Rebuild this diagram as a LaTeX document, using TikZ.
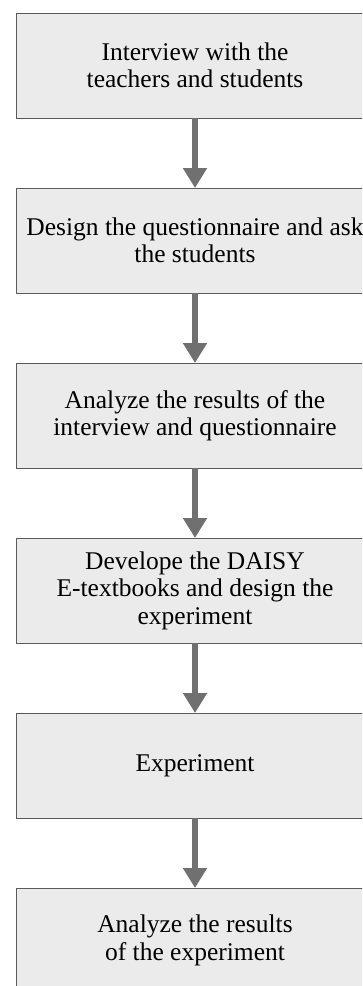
\documentclass[tikz,border=0pt]{standalone}
\usepackage{fontspec}
\setmainfont{Liberation Serif}
\usetikzlibrary{positioning,arrows.meta}
\definecolor{boxfill}{HTML}{EBEBEB}
\definecolor{boxline}{HTML}{5A5A5A}
\definecolor{arrowgray}{HTML}{707070}
\begin{document}
\begin{tikzpicture}[node distance={70pt}, x=1pt, y=1pt,
    main/.style = {draw=boxline, fill=boxfill, line width=1pt, outer sep=0pt, inner sep=0pt,
        minimum width=358pt, minimum height=105pt, align=center,
        font=\fontsize{25.5}{27.5}\selectfont},
    flow/.style = {draw=arrowgray, line width=6pt, -{Triangle[width=23pt,length=20pt]}}]
    \useasboundingbox (0,0) rectangle (362,-986);
    \clip (0,0) rectangle (362,-986);

    \node[main] (1) at (195,-65.5) {Interview with the\\teachers and students};
    \node[main] (2) [below=of 1] {Design the questionnaire and ask\\the students};
    \node[main] (3) [below=of 2] {Analyze the results of the\\interview and questionnaire};
    \node[main] (4) [below=of 3] {Develope the DAISY\\E-textbooks and design the\\experiment};
    \node[main] (5) [below=of 4] {Experiment};
    \node[main] (6) [below=of 5] {Analyze the results\\of the experiment};

    \draw[flow] (1) -- (2);
    \draw[flow] (2) -- (3);
    \draw[flow] (3) -- (4);
    \draw[flow] (4) -- (5);
    \draw[flow] (5) -- (6);
\end{tikzpicture}
\end{document}
